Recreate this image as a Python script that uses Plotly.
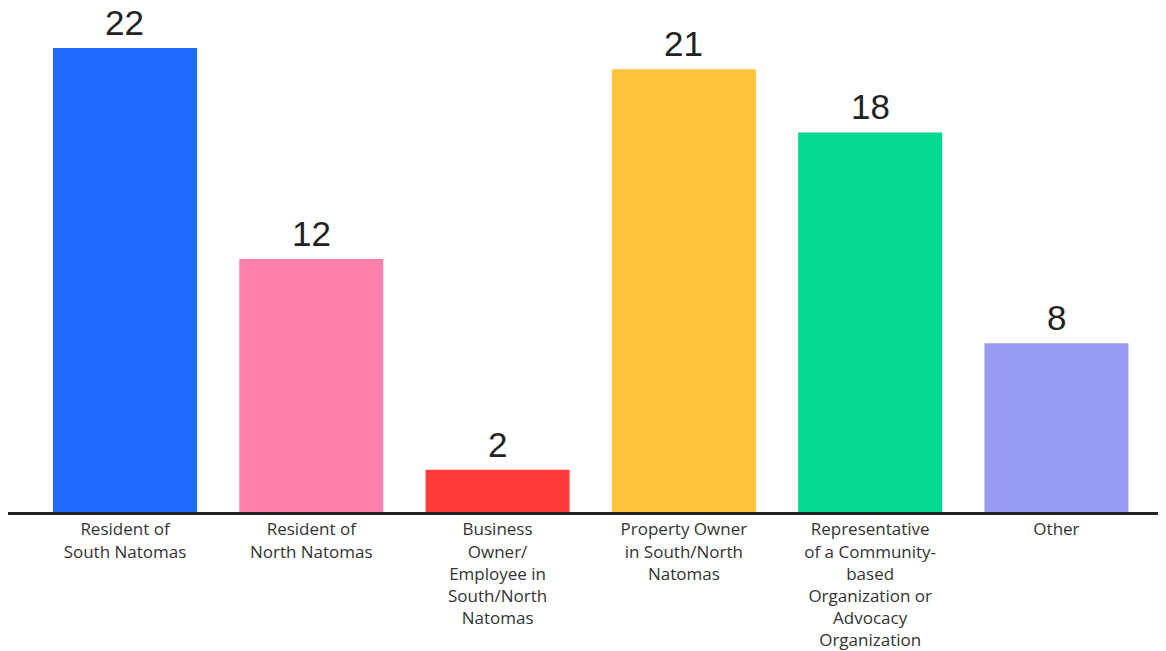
import plotly.graph_objects as go

categories = [
    "Resident of<br>South Natomas",
    "Resident of<br>North Natomas",
    "Business<br>Owner/<br>Employee in<br>South/North<br>Natomas",
    "Property Owner<br>in South/North<br>Natomas",
    "Representative<br>of a Community-<br>based<br>Organization or<br>Advocacy<br>Organization",
    "Other",
]
values = [22, 12, 2, 21, 18, 8]
colors = ["#1F69FF", "#FF80AB", "#FF3B3B", "#FFC43A", "#00D98F", "#979BF2"]

xpos = list(range(len(categories)))

fig = go.Figure(
    go.Bar(
        x=xpos,
        y=values,
        marker=dict(color=colors, line=dict(width=0)),
        cliponaxis=False,
        hoverinfo="x+y",
    )
)

for xi, v in zip(xpos, values):
    fig.add_annotation(
        x=xi, y=v, text=str(v), showarrow=False,
        xanchor="center", yanchor="bottom", yshift=4,
        font=dict(family="Liberation Sans, Arial, sans-serif", size=35, color="#222222"),
    )

fig.update_layout(
    width=1166,
    height=651,
    margin=dict(l=0, r=0, t=0, b=147, autoexpand=False),
    paper_bgcolor="white",
    plot_bgcolor="white",
    bargap=0.227,
    showlegend=False,
    xaxis=dict(
        tickmode="array",
        tickvals=xpos,
        ticktext=categories,
        range=[-0.628, 5.631],
        showline=True,
        linecolor="#222222",
        linewidth=3,
        showgrid=False,
        zeroline=False,
        ticks="",
        automargin=False,
        ticklabelstandoff=0,
        tickfont=dict(family="Open Sans, sans-serif", size=17, color="#333333"),
        fixedrange=True,
    ),
    yaxis=dict(
        range=[0, 23.9],
        visible=False,
        showgrid=False,
        zeroline=False,
        automargin=False,
    ),
)

fig.write_html("out.html")
